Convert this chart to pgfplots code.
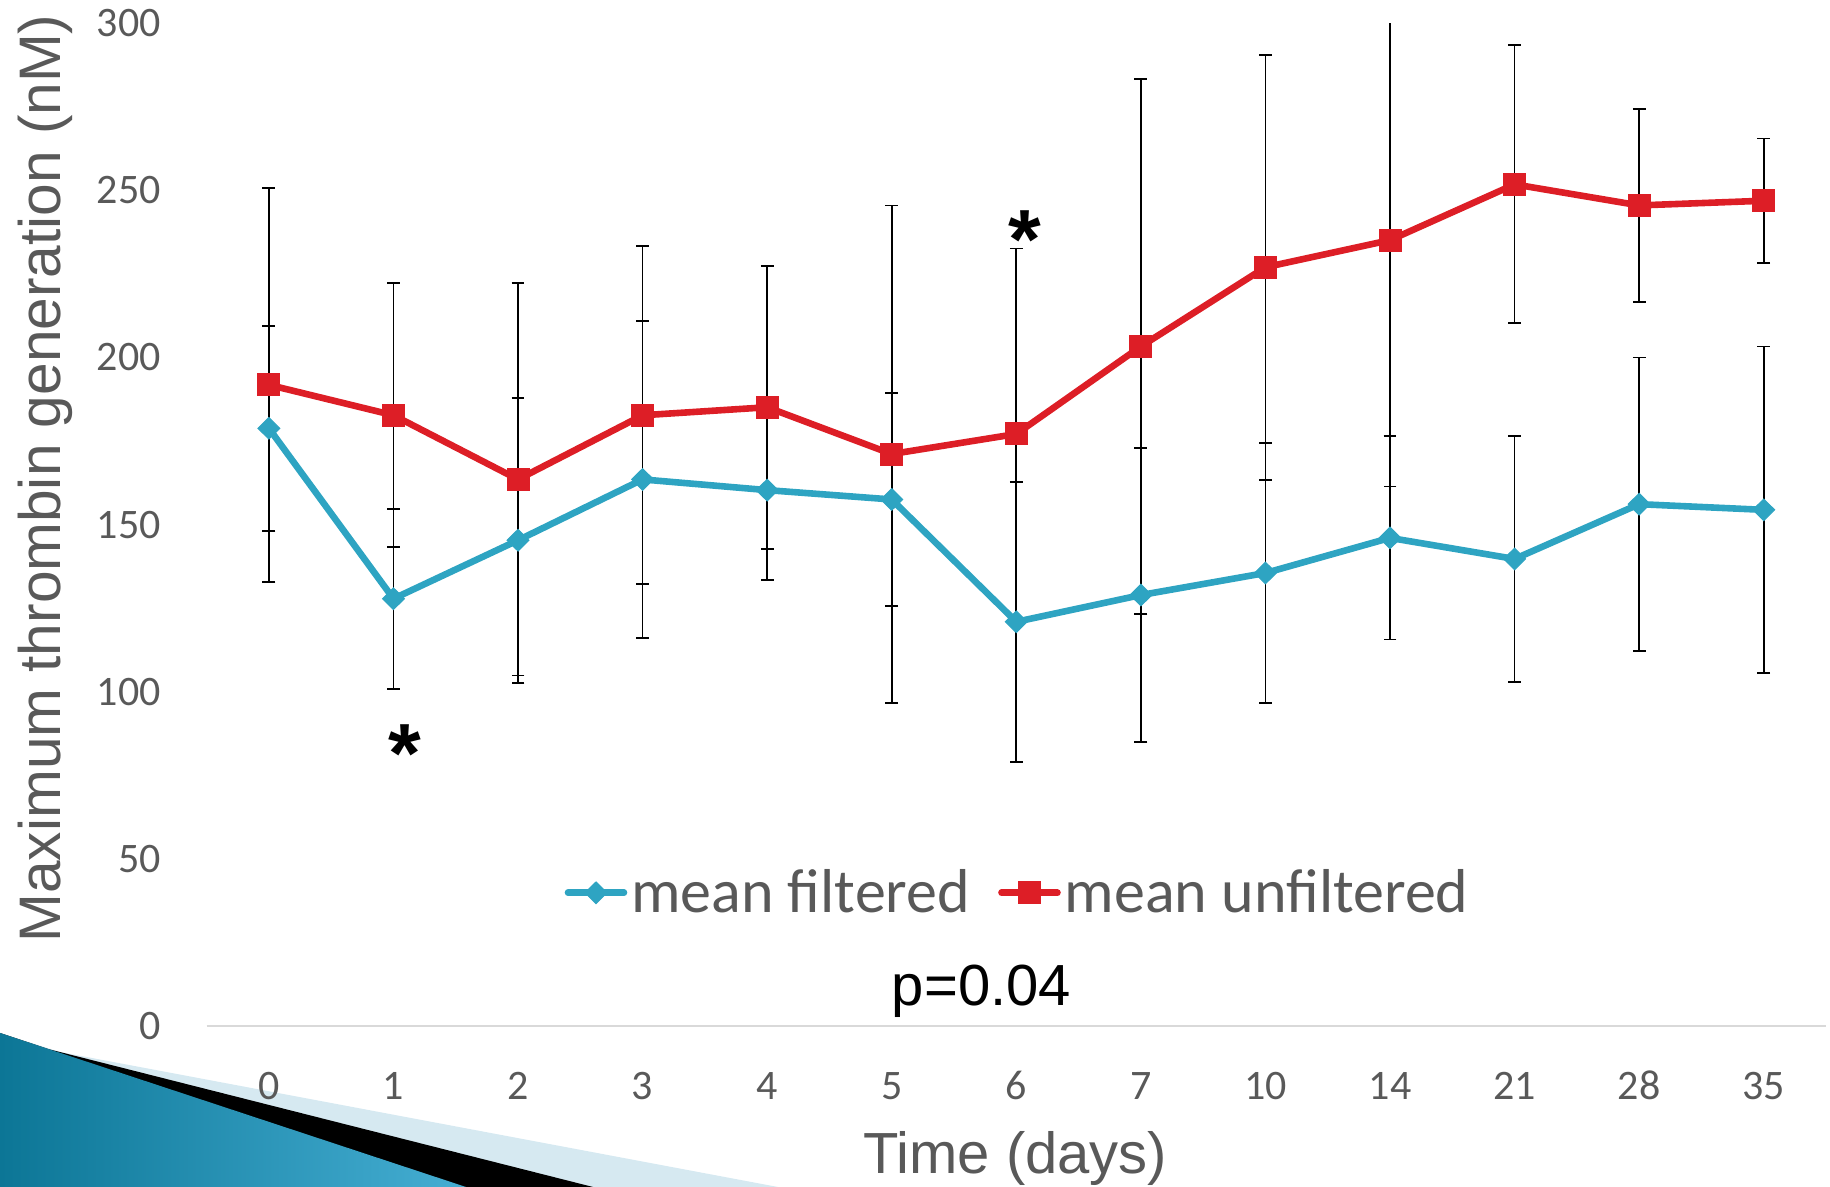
\documentclass[border=0pt]{standalone}
\usepackage{pgfplots}
\pgfplotsset{compat=1.18}
\usepackage{pgfplotstable}
\usepackage{fontspec}
\setmainfont{Liberation Sans}
\newfontfamily\cfont{Carlito}
\definecolor{redU}{HTML}{DD1E26}
\definecolor{blueF}{HTML}{2EA4C2}
\definecolor{tickgray}{HTML}{595959}
\definecolor{axisgray}{HTML}{D9D9D9}
\definecolor{lightblue}{HTML}{D6E9F1}
\definecolor{darkteal}{HTML}{0C7696}
\definecolor{midteal}{HTML}{45AED3}
\pgfplotstableread{
x u ue f fe
0 191.8 59.0 178.8 30.7
1 182.7 39.5 127.8 26.9
2 163.5 58.7 145.3 42.6
3 182.7 50.6 163.5 47.5
4 185.1 42.3 160.3 26.9
5 171.1 74.4 157.5 31.8
6 177.1 55.5 120.9 41.9
7 203.3 80.0 128.9 44.0
8 227.0 63.6 135.5 38.8
9 235.1 73.7 146.0 30.4
10 251.8 41.6 139.7 36.7
11 245.5 28.8 156.1 43.9
12 246.9 18.6 154.4 48.9
}\data
\begin{document}
\begin{tikzpicture}
\useasboundingbox (-103.3pt,-80.6pt) rectangle (811.7pt,512.9pt);
% slide decoration
\fill[lightblue] (-103.3pt,-3.6pt) -- (-73.3pt,-13.1pt) -- (285.7pt,-80.6pt) -- (-103.3pt,-80.6pt) -- cycle;
\fill[black] (-103.3pt,-3.6pt) -- (-79.3pt,-11.6pt) -- (193.2pt,-80.6pt) -- (-103.3pt,-80.6pt) -- cycle;
\shade[left color=darkteal, right color=midteal] (-103.3pt,-3.6pt) -- (129.7pt,-80.6pt) -- (-103.3pt,-80.6pt) -- cycle;
\begin{axis}[
  scale only axis,
  width=809.7pt, height=501.25pt,
  xmin=-0.5, xmax=12.5, ymin=0, ymax=300,
  xtick={0,...,12},
  xticklabels={0,1,2,3,4,5,6,7,10,14,21,28,35},
  ytick={0,50,...,300},
  axis x line*=bottom, axis y line*=left,
  y axis line style={draw=none},
  x axis line style={draw=axisgray, line width=1.2pt},
  major tick length=0pt,
  tick style={draw=none},
  /pgf/number format/assume math mode=true,
  ticklabel style={font=\cfont\fontsize{21}{21}\selectfont, text=tickgray, inner sep=0pt},
  xticklabel style={anchor=base, yshift=-36.8pt},
  yticklabel style={anchor=east, xshift=-22.8pt},
  xlabel={Time (days)},
  ylabel={Maximum thrombin generation (nM)},
  xlabel style={at={(axis description cs:0.4994,0)}, anchor=base, yshift=-74pt, font=\fontsize{29}{29}\selectfont, text=tickgray},
  ylabel style={at={(axis description cs:-0.0901,0.546)}, anchor=base, font=\fontsize{29.3}{29.3}\selectfont, text=tickgray},
  legend style={at={(axis description cs:0.5014,0.1327)}, anchor=center, draw=none, fill=none,
    font=\cfont\fontsize{31}{31}\selectfont, text=tickgray,
    /tikz/every even column/.append style={column sep=12pt}},
  legend columns=2,
  legend image code/.code={\draw[mark repeat=2,mark phase=2,line cap=round,#1] plot coordinates {(0pt,0pt) (14pt,0pt) (28pt,0pt)};},
]
\addplot[forget plot, only marks, mark=none,
  error bars/.cd, y dir=both, y explicit,
  error bar style={draw=black, line width=0.9pt},
  error mark options={draw=black, rotate=90, mark size=3.2pt, line width=0.9pt}]
  table[x=x, y=u, y error=ue] {\data};
\addplot[forget plot, only marks, mark=none,
  error bars/.cd, y dir=both, y explicit,
  error bar style={draw=black, line width=0.9pt},
  error mark options={draw=black, rotate=90, mark size=3.2pt, line width=0.9pt}]
  table[x=x, y=f, y error=fe] {\data};
\addplot[blueF, line width=3.3pt, mark=diamond*, mark size=5.4pt, mark options={solid, line width=0.5pt, fill=blueF, xscale=1.35}]
  table[x=x, y=f] {\data};
\addlegendentry{mean filtered}
\addplot[redU, line width=3.3pt, mark=square*, mark size=5.5pt, mark options={solid, line width=0.5pt, fill=redU}]
  table[x=x, y=u] {\data};
\addlegendentry{mean unfiltered}
\node[font=\fontsize{42}{42}\selectfont\bfseries, anchor=base, yshift=-23.7pt, inner sep=0pt] at (axis cs:1.092,87.1) {*};
\node[font=\fontsize{42}{42}\selectfont\bfseries, anchor=base, yshift=-23.7pt, inner sep=0pt] at (axis cs:6.066,240.8) {*};
\node[anchor=base, font=\fontsize{29}{29}\selectfont, text=black, inner sep=0pt] at (axis description cs:0.4785,0.0198) {p=0.04};
\end{axis}
\end{tikzpicture}
\end{document}
